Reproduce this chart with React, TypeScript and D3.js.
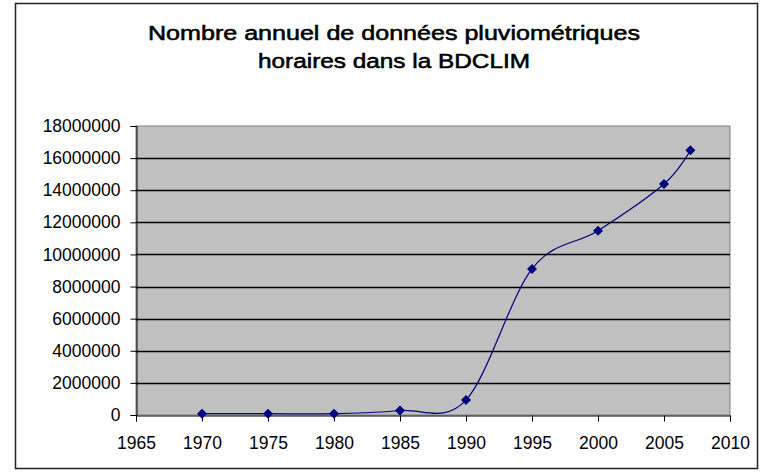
import { useEffect, useRef } from 'react';
import * as d3 from 'd3';

const years = [1970, 1975, 1980, 1985, 1990, 1995, 2000, 2005, 2007];
const counts = [80000, 80000, 80000, 280000, 930000, 9100000, 11480000, 14390000, 16490000];
const xTicks = [1965, 1970, 1975, 1980, 1985, 1990, 1995, 2000, 2005, 2010];
const yTicks = [0, 2000000, 4000000, 6000000, 8000000, 10000000, 12000000, 14000000, 16000000, 18000000];
const titleLines = ['Nombre annuel de données pluviométriques', 'horaires dans la BDCLIM'];
const titleWidths = [492, 272];

const width = 764;
const height = 472;

const App = () => {
  const svgRef = useRef<SVGSVGElement | null>(null);

  useEffect(() => {
    if (!svgRef.current) return;
    const svg = d3.select(svgRef.current);
    svg.selectAll('*').remove();

    const plot = { left: 136, top: 126, right: 730, bottom: 415 };

    const x = d3.scaleLinear().domain([1965, 2010]).range([plot.left, plot.right]);
    const y = d3.scaleLinear().domain([0, 18000000]).range([plot.bottom, plot.top]);

    // chart frame
    svg.append('rect')
      .attr('x', 15.5).attr('y', 3.5)
      .attr('width', 742).attr('height', 465)
      .attr('fill', '#fff').attr('stroke', '#222').attr('stroke-width', 1.5);

    // title (two lines), medium weight via a thin stroke
    svg.append('g').selectAll('text')
      .data(titleLines)
      .enter()
      .append('text')
      .attr('x', 394)
      .attr('y', (d, i) => 40 + i * 28)
      .attr('text-anchor', 'middle')
      .attr('textLength', (d, i) => titleWidths[i])
      .attr('lengthAdjust', 'spacingAndGlyphs')
      .style('font-family', 'Liberation Sans, Arial, sans-serif')
      .style('font-size', '20px')
      .style('fill', '#000')
      .style('stroke', '#000')
      .style('stroke-width', '0.55px')
      .text(d => d);

    // plot area
    svg.append('rect')
      .attr('x', plot.left).attr('y', plot.top)
      .attr('width', plot.right - plot.left).attr('height', plot.bottom - plot.top)
      .attr('fill', '#c0c0c0').attr('stroke', '#808080').attr('stroke-width', 1);

    // gridlines
    svg.append('g').selectAll('line')
      .data(yTicks.filter(d => d > 0 && d < 18000000))
      .enter()
      .append('line')
      .attr('x1', plot.left).attr('x2', plot.right)
      .attr('y1', d => Math.round(y(d)) + 0.5).attr('y2', d => Math.round(y(d)) + 0.5)
      .attr('stroke', '#000').attr('stroke-width', 1.4);

    // y axis
    const yAxis = svg.append('g')
      .attr('transform', `translate(${plot.left + 0.5},0)`)
      .call(d3.axisLeft(y).tickValues(yTicks).tickSize(6).tickFormat(d => String(d)));
    yAxis.select('.domain').attr('stroke', '#000');
    yAxis.selectAll('text')
      .style('font-family', 'Liberation Sans, Arial, sans-serif')
      .style('font-size', '17.5px')
      .attr('x', -16)
      .attr('fill', '#000');

    // x axis
    const xAxis = svg.append('g')
      .attr('transform', `translate(0,${plot.bottom + 0.5})`)
      .call(d3.axisBottom(x).tickValues(xTicks).tickSize(6).tickFormat(d => String(d)));
    xAxis.select('.domain').attr('stroke', '#000');
    xAxis.selectAll('text')
      .style('font-family', 'Liberation Sans, Arial, sans-serif')
      .style('font-size', '17.5px')
      .attr('y', 21)
      .attr('fill', '#000');

    const data = years.map((yr, i) => ({ yr, v: counts[i] }));

    // Excel-style smoothed line
    const line = d3.line<{ yr: number; v: number }>()
      .x(d => x(d.yr))
      .y(d => y(d.v))
      .curve(d3.curveCardinal.tension(0));

    svg.append('path')
      .datum(data)
      .attr('fill', 'none')
      .attr('stroke', '#000080')
      .attr('stroke-width', 1.2)
      .attr('d', line);

    // diamond markers
    svg.append('g').selectAll('path')
      .data(data)
      .enter()
      .append('path')
      .attr('transform', d => `translate(${x(d.yr)},${y(d.v)})`)
      .attr('d', 'M0,-5L5,0L0,5L-5,0Z')
      .attr('fill', '#000080');
  }, []);

  return (
    <svg
      ref={svgRef}
      width={width}
      height={height}
      style={{ position: 'absolute', left: 0, top: 0 }}
    />
  );
};

export default App;
